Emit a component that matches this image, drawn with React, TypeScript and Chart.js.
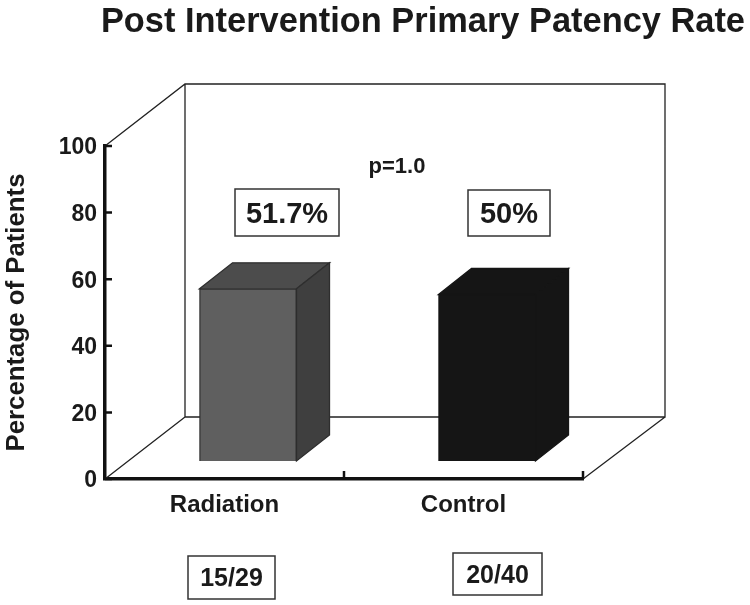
import React, { useEffect, useRef } from "react";
import { Chart, registerables } from "chart.js";

Chart.register(...registerables);

const categories = ["Radiation", "Control"];
const patencyPercent = [51.7, 50];
const valueLabels = ["51.7%", "50%"];
const countLabels = ["15/29", "20/40"];
const frontColors = ["#5f5f5f", "#151515"];
const topColors = ["#4c4c4c", "#151515"];
const sideColors = ["#3f3f3f", "#151515"];
const edgeColors = ["#2e2e2e", "#151515"];
const titleText = "Post Intervention Primary Patency Rate";
const yAxisTitle = "Percentage of Patients";
const pValueText = "p=1.0";

const FONT = '"Liberation Sans", Arial, sans-serif';
const WALL = { dx: 80, dy: -62 };
const BAR_SHIFT = { dx: 23.5, dy: -18 };
const BAR_DEPTH = { dx: 33, dy: -26 };
const valueBoxes = [
  { l: 235, t: 189, r: 339, b: 236 },
  { l: 468, t: 190, r: 550, b: 236 },
];
const countBoxes = [
  { l: 188, t: 556, r: 275, b: 599 },
  { l: 453, t: 553, r: 542, b: 595 },
];

function poly(ctx: CanvasRenderingContext2D, pts: number[][], fill: string, stroke: string) {
  ctx.beginPath();
  pts.forEach((p, i) => (i ? ctx.lineTo(p[0], p[1]) : ctx.moveTo(p[0], p[1])));
  ctx.closePath();
  ctx.fillStyle = fill;
  ctx.fill();
  ctx.strokeStyle = stroke;
  ctx.lineWidth = 1.3;
  ctx.stroke();
}

function textBox(ctx: CanvasRenderingContext2D, box: any, text: string, size: number) {
  ctx.fillStyle = "#ffffff";
  ctx.fillRect(box.l, box.t, box.r - box.l, box.b - box.t);
  ctx.strokeStyle = "#333333";
  ctx.lineWidth = 1.5;
  ctx.strokeRect(box.l, box.t, box.r - box.l, box.b - box.t);
  ctx.fillStyle = "#1a1a1a";
  ctx.font = `bold ${size}px ${FONT}`;
  ctx.textAlign = "center";
  ctx.textBaseline = "middle";
  ctx.fillText(text, (box.l + box.r) / 2, (box.t + box.b) / 2 + 2);
}

const scene3d = {
  id: "scene3d",
  beforeDatasetsDraw(chart: any) {
    const { ctx, chartArea: a } = chart;
    const bw = a.left + WALL.dx;
    const be = a.right + WALL.dx + 2;
    const bt = a.top + WALL.dy;
    const bb = a.bottom + WALL.dy;
    ctx.save();
    ctx.strokeStyle = "#222222";
    ctx.lineWidth = 1.3;
    ctx.beginPath();
    ctx.moveTo(a.left, a.top);
    ctx.lineTo(bw, bt);
    ctx.lineTo(be, bt);
    ctx.lineTo(be, bb);
    ctx.lineTo(bw, bb);
    ctx.lineTo(bw, bt);
    ctx.moveTo(a.left, a.bottom);
    ctx.lineTo(bw, bb);
    ctx.moveTo(a.right, a.bottom);
    ctx.lineTo(be, bb);
    ctx.stroke();

    const meta = chart.getDatasetMeta(0);
    meta.data.forEach((el: any, i: number) => {
      const half = el.width / 2;
      const l = el.x - half + BAR_SHIFT.dx;
      const r = el.x + half + BAR_SHIFT.dx;
      const t = el.y + BAR_SHIFT.dy;
      const b = el.base + BAR_SHIFT.dy;
      const d = BAR_DEPTH;
      poly(ctx, [[l, t], [l + d.dx, t + d.dy], [r + d.dx, t + d.dy], [r, t]], topColors[i], edgeColors[i]);
      poly(ctx, [[r, t], [r + d.dx, t + d.dy], [r + d.dx, b + d.dy], [r, b]], sideColors[i], edgeColors[i]);
    });
    ctx.restore();
    ctx.save();
    ctx.translate(BAR_SHIFT.dx, BAR_SHIFT.dy);
  },
  afterDatasetsDraw(chart: any) {
    const { ctx, chartArea: a, scales } = chart;
    ctx.restore();
    ctx.save();
    // inward tick marks
    ctx.strokeStyle = "#111111";
    ctx.lineWidth = 2.5;
    ctx.beginPath();
    scales.y.ticks.forEach((t: any) => {
      const y = scales.y.getPixelForValue(t.value);
      ctx.moveTo(a.left, y);
      ctx.lineTo(a.left + 7, y);
    });
    const step = (a.right - a.left) / categories.length;
    for (let i = 1; i <= categories.length; i++) {
      ctx.moveTo(a.left + step * i, a.bottom);
      ctx.lineTo(a.left + step * i, a.bottom - 8);
    }
    ctx.stroke();

    // title
    ctx.fillStyle = "#1a1a1a";
    ctx.font = `bold 34.4px ${FONT}`;
    ctx.textAlign = "right";
    ctx.textBaseline = "alphabetic";
    ctx.fillText(titleText, 745, 32);

    ctx.font = `bold 22px ${FONT}`;
    ctx.textAlign = "center";
    ctx.textBaseline = "middle";
    ctx.fillText(pValueText, 397, 167);

    valueBoxes.forEach((box, i) => textBox(ctx, box, valueLabels[i], 29));
    countBoxes.forEach((box, i) => textBox(ctx, box, countLabels[i], 25));
    ctx.restore();
  },
};

export default function App() {
  const ref = useRef<HTMLCanvasElement>(null);
  useEffect(() => {
    const chart = new Chart(ref.current as HTMLCanvasElement, {
      type: "bar",
      data: {
        labels: categories,
        datasets: [
          {
            data: patencyPercent,
            backgroundColor: frontColors,
            borderColor: edgeColors,
            borderWidth: 1.3,
            barThickness: 97,
          },
        ],
      },
      options: {
        responsive: false,
        animation: false,
        layout: { padding: { top: 146, right: 167, left: 0, bottom: 0 } },
        plugins: { legend: { display: false }, tooltip: { enabled: false }, title: { display: false } },
        scales: {
          x: {
            grid: { display: false },
            border: { color: "#111111", width: 3.5 },
            afterFit: (s: any) => {
              s.height = 126;
            },
            ticks: {
              color: "#1a1a1a",
              padding: 4,
              maxRotation: 0,
              font: { family: FONT, weight: "bold", size: 24 },
            },
          },
          y: {
            min: 0,
            max: 100,
            afterFit: (s: any) => {
              s.width = 105;
            },
            grid: { display: false, drawTicks: false },
            border: { color: "#111111", width: 3.5 },
            title: {
              display: true,
              text: yAxisTitle,
              color: "#1a1a1a",
              padding: { top: 1, bottom: 0 },
              font: { family: FONT, weight: "bold", size: 25.8 },
            },
            ticks: {
              stepSize: 20,
              color: "#1a1a1a",
              padding: 8,
              labelOffset: 2,
              font: { family: FONT, weight: "bold", size: 23 },
            },
          },
        },
      } as any,
      plugins: [scene3d],
    });
    return () => chart.destroy();
  }, []);
  return (
    <canvas
      ref={ref}
      width={750}
      height={605}
      style={{ position: "absolute", left: 0, top: 0, width: 750, height: 605, background: "#fff" }}
    />
  );
}
